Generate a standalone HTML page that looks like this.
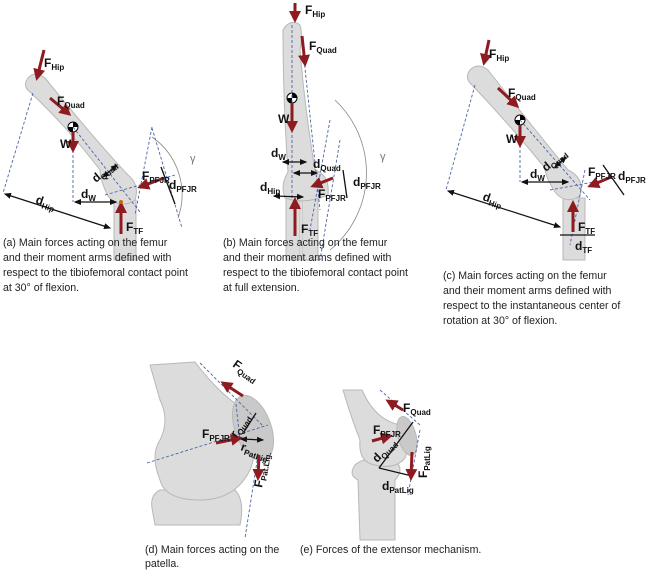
<!DOCTYPE html>
<html><head><meta charset="utf-8"><style>
body{margin:0;background:#fff}
svg{display:block}
text{font-family:"Liberation Sans",sans-serif;fill:#111}
.cap{font-size:10.6px;fill:#222}
.lb{font-size:12px;font-weight:bold}
.sb{font-size:8px;font-weight:bold}
.bone{fill:#dcdcdc;stroke:#b8b8b8;stroke-width:1}
.dash{stroke:#4a64a8;stroke-width:0.9;stroke-dasharray:3,2;fill:none}
.fr{stroke:#8e1b1f;stroke-width:3;fill:none;marker-end:url(#ar)}
.bl{stroke:#111;stroke-width:1.2;fill:none;marker-end:url(#ab);marker-start:url(#abs)}
</style></head><body>
<svg width="650" height="570" viewBox="0 0 650 570">
<defs>
<marker id="ar" markerWidth="4" markerHeight="4" refX="3" refY="2" orient="auto"><path d="M0,0L4,2L0,4z" fill="#8e1b1f"/></marker>
<marker id="ab" markerWidth="6" markerHeight="6" refX="5" refY="3" orient="auto"><path d="M0,0.5L6,3L0,5.5z" fill="#111"/></marker>
<marker id="abs" markerWidth="6" markerHeight="6" refX="1" refY="3" orient="auto"><path d="M6,0.5L0,3L6,5.5z" fill="#111"/></marker>
</defs>

<!-- PANEL A -->
<rect class="bone" x="114" y="200" width="22" height="60"/>
<path class="bone" d="M28,78 Q35,70 45,78 Q95,140 128,175 Q140,185 135,200 Q120,210 108,196 Q100,180 100,170 Q70,130 30,92 Q22,86 28,78z"/>
<circle cx="73" cy="127" r="5" fill="#fff" stroke="#000"/><path d="M73,122 A5,5 0 0 1 78,127 L73,127z M73,132 A5,5 0 0 1 68,127 L73,127z" fill="#000"/>
<line class="dash" x1="33" y1="93" x2="3" y2="193"/><line class="dash" x1="73" y1="150" x2="73" y2="202"/>
<line class="dash" x1="73" y1="127" x2="140" y2="212"/><line class="dash" x1="152" y1="127" x2="135" y2="215"/>
<line class="dash" x1="152" y1="128" x2="182" y2="228"/><line class="dash" x1="105" y1="195" x2="175" y2="175"/>
<path d="M152,137 A70,70 0 0 1 178,218" fill="none" stroke="#888" stroke-width="0.8"/>
<text x="190" y="162" style="font-size:11px;fill:#777">γ</text>
<line class="fr" x1="44" y1="50" x2="37" y2="78"/><text class="lb" x="44" y="67">F<tspan class="sb" dy="3">Hip</tspan></text>
<line class="fr" x1="50" y1="98" x2="69" y2="114"/><text class="lb" x="57" y="105">F<tspan class="sb" dy="3">Quad</tspan></text>
<line class="fr" x1="73" y1="132" x2="73" y2="150"/><text class="lb" x="60" y="148">W</text>
<line class="bl" x1="5" y1="194" x2="110" y2="228"/><text class="lb" transform="translate(35,203) rotate(18)">d<tspan class="sb" dy="3">Hip</tspan></text>
<line class="bl" x1="75" y1="202" x2="116" y2="202"/><text class="lb" x="81" y="198">d<tspan class="sb" dy="3">W</tspan></text>
<line class="bl" x1="103" y1="177" x2="117" y2="165"/><text class="lb" transform="translate(96,183) rotate(-40)">d<tspan class="sb" dy="3">Quad</tspan></text>
<line class="fr" x1="164" y1="178" x2="140" y2="187"/><text class="lb" x="142" y="180">F<tspan class="sb" dy="3">PFJR</tspan></text>
<line x1="161" y1="167" x2="175" y2="204" stroke="#111" stroke-width="1.3"/><text class="lb" x="169" y="189">d<tspan class="sb" dy="3">PFJR</tspan></text>
<line class="fr" x1="121" y1="234" x2="121" y2="204"/><text class="lb" x="126" y="231">F<tspan class="sb" dy="3">TF</tspan></text>
<circle cx="121" cy="202" r="2" fill="#c60"/>

<!-- PANEL B -->
<rect class="bone" x="286" y="198" width="14" height="62"/><rect class="bone" x="302" y="198" width="16" height="62"/>
<path class="bone" d="M283,30 Q290,18 300,25 Q303,35 300,50 Q305,110 315,170 Q330,175 328,195 Q305,205 285,198 Q280,185 288,172 Q283,100 283,30z"/>
<circle cx="292" cy="98" r="5" fill="#fff" stroke="#000"/><path d="M292,93 A5,5 0 0 1 297,98 L292,98z M292,103 A5,5 0 0 1 287,98 L292,98z" fill="#000"/>
<line class="dash" x1="292" y1="25" x2="292" y2="200"/><line class="dash" x1="302" y1="40" x2="320" y2="210"/>
<line class="dash" x1="330" y1="120" x2="310" y2="230"/><line class="dash" x1="340" y1="140" x2="320" y2="260"/>
<path d="M335,100 A100,100 0 0 1 330,250" fill="none" stroke="#888" stroke-width="0.8"/>
<text x="380" y="160" style="font-size:11px;fill:#777">γ</text>
<line class="fr" x1="295" y1="3" x2="295" y2="20"/><text class="lb" x="305" y="14">F<tspan class="sb" dy="3">Hip</tspan></text>
<line class="fr" x1="302" y1="36" x2="305" y2="64"/><text class="lb" x="309" y="50">F<tspan class="sb" dy="3">Quad</tspan></text>
<line class="fr" x1="292" y1="103" x2="292" y2="130"/><text class="lb" x="278" y="123">W</text>
<line class="bl" x1="283" y1="162" x2="306" y2="162"/><text class="lb" x="271" y="157">d<tspan class="sb" dy="3">W</tspan></text>
<line class="bl" x1="294" y1="173" x2="317" y2="173"/><text class="lb" x="313" y="168">d<tspan class="sb" dy="3">Quad</tspan></text>
<line class="bl" x1="274" y1="196" x2="303" y2="197"/><text class="lb" x="260" y="191">d<tspan class="sb" dy="3">Hip</tspan></text>
<line class="fr" x1="333" y1="178" x2="313" y2="186"/><text class="lb" x="318" y="198">F<tspan class="sb" dy="3">PFJR</tspan></text>
<line x1="343" y1="170" x2="347" y2="198" stroke="#111" stroke-width="1.3"/><text class="lb" x="353" y="186">d<tspan class="sb" dy="3">PFJR</tspan></text>
<line class="fr" x1="295" y1="236" x2="295" y2="200"/><text class="lb" x="301" y="233">F<tspan class="sb" dy="3">TF</tspan></text>

<!-- PANEL C -->
<rect class="bone" x="563" y="198" width="22" height="62"/>
<path class="bone" d="M470,70 Q478,62 488,70 Q535,130 568,170 Q585,178 580,196 Q565,205 555,192 Q545,176 545,168 Q510,125 472,85 Q464,78 470,70z"/>
<circle cx="520" cy="120" r="5" fill="#fff" stroke="#000"/><path d="M520,115 A5,5 0 0 1 525,120 L520,120z M520,125 A5,5 0 0 1 515,120 L520,120z" fill="#000"/>
<line class="dash" x1="475" y1="85" x2="446" y2="190"/><line class="dash" x1="520" y1="145" x2="520" y2="182"/>
<line class="dash" x1="520" y1="120" x2="590" y2="200"/><line class="dash" x1="585" y1="170" x2="570" y2="245"/>
<line class="dash" x1="550" y1="190" x2="605" y2="180"/>
<line class="fr" x1="489" y1="40" x2="484" y2="63"/><text class="lb" x="489" y="58">F<tspan class="sb" dy="3">Hip</tspan></text>
<line class="fr" x1="498" y1="88" x2="517" y2="106"/><text class="lb" x="508" y="97">F<tspan class="sb" dy="3">Quad</tspan></text>
<line class="fr" x1="520" y1="125" x2="520" y2="145"/><text class="lb" x="506" y="143">W</text>
<line class="bl" x1="448" y1="191" x2="560" y2="227"/><text class="lb" transform="translate(482,200) rotate(18)">d<tspan class="sb" dy="3">Hip</tspan></text>
<line class="bl" x1="522" y1="182" x2="568" y2="182"/><text class="lb" x="530" y="178">d<tspan class="sb" dy="3">W</tspan></text>
<line class="bl" x1="555" y1="167" x2="566" y2="157"/><text class="lb" transform="translate(546,172) rotate(-40)">d<tspan class="sb" dy="3">Quad</tspan></text>
<line class="fr" x1="611" y1="177" x2="590" y2="186"/><text class="lb" x="588" y="176">F<tspan class="sb" dy="3">PFJR</tspan></text>
<line x1="603" y1="165" x2="624" y2="195" stroke="#111" stroke-width="1.3"/><text class="lb" x="618" y="180">d<tspan class="sb" dy="3">PFJR</tspan></text>
<line class="fr" x1="573" y1="232" x2="573" y2="203"/><text class="lb" x="578" y="231">F<tspan class="sb" dy="3">TF</tspan></text>
<line x1="560" y1="235" x2="595" y2="235" stroke="#111" stroke-width="1.2"/><text class="lb" x="575" y="250">d<tspan class="sb" dy="3">TF</tspan></text>

<!-- captions row 1 -->
<text class="cap" x="3" y="246">(a) Main forces acting on the femur</text>
<text class="cap" x="3" y="261">and their moment arms defined with</text>
<text class="cap" x="3" y="276">respect to the tibiofemoral contact point</text>
<text class="cap" x="3" y="291">at 30° of flexion.</text>
<text class="cap" x="223" y="246">(b) Main forces acting on the femur</text>
<text class="cap" x="223" y="261">and their moment arms defined with</text>
<text class="cap" x="223" y="276">respect to the tibiofemoral contact point</text>
<text class="cap" x="223" y="291">at full extension.</text>
<text class="cap" x="443" y="279">(c) Main forces acting on the femur</text>
<text class="cap" x="443" y="294">and their moment arms defined with</text>
<text class="cap" x="443" y="309">respect to the instantaneous center of</text>
<text class="cap" x="443" y="324">rotation at 30° of flexion.</text>

<!-- PANEL D -->
<path class="bone" d="M152,508 Q150,495 160,490 L235,490 Q245,500 240,525 L155,525z"/>
<path class="bone" d="M150,365 L195,362 Q220,395 245,410 Q262,440 250,470 Q235,500 200,500 Q165,500 160,480 Q150,455 160,440 Q170,420 160,400z"/>
<ellipse class="bone" cx="253" cy="428" rx="18" ry="34" transform="rotate(-20 253 428)" style="fill:#c9c9c9"/>
<line class="dash" x1="200" y1="363" x2="262" y2="425"/><line class="dash" x1="147" y1="463" x2="268" y2="425"/>
<line class="dash" x1="258" y1="455" x2="245" y2="538"/><line class="dash" x1="236" y1="404" x2="240" y2="440"/>
<line class="fr" x1="243" y1="396" x2="223" y2="383"/><text class="lb" transform="translate(232,366) rotate(35)">F<tspan class="sb" dy="3">Quad</tspan></text>
<line class="fr" x1="216" y1="443" x2="240" y2="438"/><text class="lb" x="202" y="438">F<tspan class="sb" dy="3">PFJR</tspan></text>
<line x1="244" y1="432" x2="256" y2="413" stroke="#111" stroke-width="1.3"/><text class="lb" transform="translate(236,438) rotate(-55)">r<tspan class="sb" dy="3">Quad</tspan></text>
<line class="bl" x1="241" y1="439" x2="263" y2="440"/><text class="lb" transform="translate(240,450) rotate(20)">r<tspan class="sb" dy="3">PatLig</tspan></text>
<line class="fr" x1="259" y1="455" x2="258" y2="478"/><text class="lb" transform="translate(262,488) rotate(-80)">F<tspan class="sb" dy="3">Pat.Lig.</tspan></text>

<!-- PANEL E -->
<path class="bone" d="M355,465 Q365,455 395,460 Q405,470 395,480 L395,540 L360,540 L358,480 Q348,475 355,465z"/>
<path class="bone" d="M343,390 L362,390 Q375,420 400,425 Q412,440 405,458 Q395,470 375,465 Q358,462 360,440 Q352,420 343,390z"/>
<ellipse class="bone" cx="407" cy="436" rx="9" ry="20" transform="rotate(-15 407 436)" style="fill:#c9c9c9"/>
<line class="dash" x1="380" y1="390" x2="420" y2="425"/><line class="dash" x1="420" y1="430" x2="408" y2="495"/>
<line class="fr" x1="403" y1="410" x2="388" y2="401"/><text class="lb" x="403" y="412">F<tspan class="sb" dy="3">Quad</tspan></text>
<line class="fr" x1="372" y1="441" x2="390" y2="436"/><text class="lb" x="373" y="434">F<tspan class="sb" dy="3">PFJR</tspan></text>
<line x1="379" y1="468" x2="413" y2="422" stroke="#111" stroke-width="1.3"/><text class="lb" transform="translate(377,463) rotate(-45)">d<tspan class="sb" dy="3">Quad</tspan></text>
<line x1="379" y1="468" x2="412" y2="476" stroke="#111" stroke-width="1.3"/><text class="lb" x="382" y="490">d<tspan class="sb" dy="3">PatLig</tspan></text>
<line class="fr" x1="412" y1="452" x2="411" y2="478"/><text class="lb" transform="translate(427,478) rotate(-90)">F<tspan class="sb" dy="3">PatLig</tspan></text>

<text class="cap" x="145" y="553">(d) Main forces acting on the</text>
<text class="cap" x="145" y="567">patella.</text>
<text class="cap" x="300" y="553">(e) Forces of the extensor mechanism.</text>
</svg>
</body></html>
